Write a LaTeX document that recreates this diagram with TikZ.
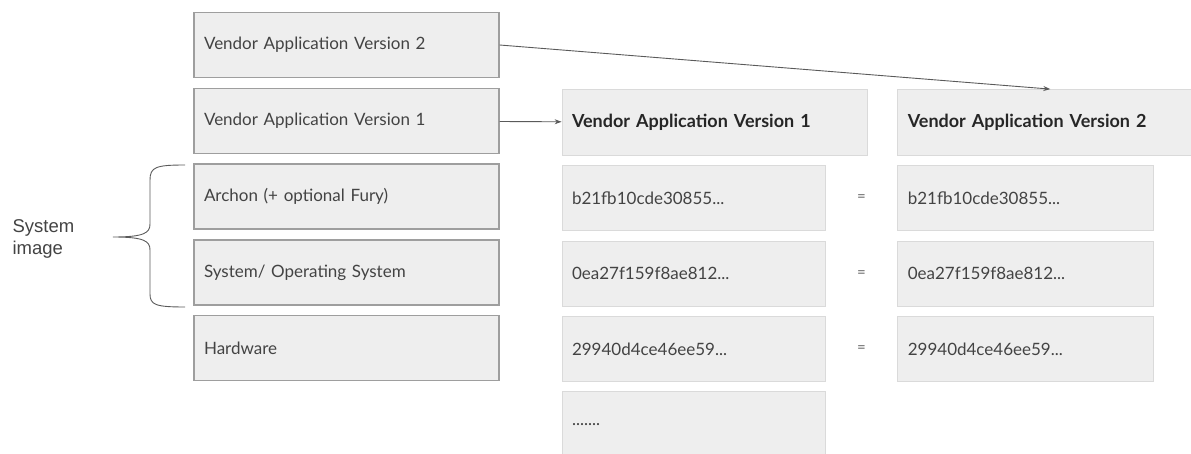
\documentclass[tikz,border=0pt]{standalone}
\usepackage{fontspec}
\setmainfont{Lato}
\newfontfamily\labelfont{Liberation Sans}
\usetikzlibrary{positioning, arrows.meta, calc}
\definecolor{boxfill}{HTML}{EEEEEE}
\definecolor{layerline}{HTML}{9E9E9E}
\definecolor{hashline}{HTML}{DADADA}
\definecolor{inkgray}{HTML}{434343}
\definecolor{wiregray}{HTML}{5A5A5A}

\begin{document}
\begin{tikzpicture}[
    x=1pt, y=-1pt,
    every node/.style={font=\fontsize{17}{20}\selectfont},
    layer/.style={draw=layerline, line width=1.3pt, fill=boxfill, rectangle, inner xsep=10pt, text width=285pt, minimum height=65pt, align=left, text=inkgray},
    headbox/.style={draw=hashline, line width=0.8pt, fill=boxfill, rectangle, inner xsep=10pt, text width=285pt, minimum height=66pt, align=left, text=black!85, font=\fontsize{18}{20}\selectfont\bfseries},
    hashbox/.style={draw=hashline, line width=0.8pt, fill=boxfill, rectangle, inner xsep=10pt, text width=243pt, minimum height=65pt, align=left, text=inkgray},
    eqsign/.style={text=black!60, font=\fontsize{15}{17}\selectfont},
    arr/.style={-{Stealth[length=7pt, width=5pt]}, draw=wiregray, line width=0.9pt}
]
    \useasboundingbox (0,0) rectangle (1191,454);

    % software / system stack
    \node[layer] (ven2) at (346.5,45) {Vendor Application Version 2};
    \node[layer, below=9.5pt of ven2] (ven1) {Vendor Application Version 1};
    \node[layer, below=9.5pt of ven1] (archon) {Archon (+ optional Fury)};
    \node[layer, below=9.5pt of archon] (os) {System/ Operating System};
    \node[layer, below=9.5pt of os] (hw) {Hardware};

    % hashes of version 1
    \node[headbox] (head1) at (714.5,122.5) {Vendor Application Version 1};
    \node[hashbox, below=9.5pt of head1.south west, anchor=north west] (hashA1) {b21fb10cde30855...};
    \node[hashbox, below=9.5pt of hashA1] (hashA2) {0ea27f159f8ae812...};
    \node[hashbox, below=9.5pt of hashA2] (hashA3) {29940d4ce46ee59...};
    \node[hashbox, below=9.5pt of hashA3] (hashA4) {.......};

    % hashes of version 2
    \node[headbox, right=30pt of head1] (head2) {Vendor Application Version 2};
    \node[hashbox, text width=236pt, below=9.5pt of head2.south west, anchor=north west] (hashB1) {b21fb10cde30855...};
    \node[hashbox, text width=236pt, below=9.5pt of hashB1] (hashB2) {0ea27f159f8ae812...};
    \node[hashbox, text width=236pt, below=9.5pt of hashB2] (hashB3) {29940d4ce46ee59...};

    \node[eqsign] (eq1) at ($(hashA1.east)!0.5!(hashB1.west)$) {=};
    \node[eqsign] (eq2) at ($(hashA2.east)!0.5!(hashB2.west)$) {=};
    \node[eqsign] (eq3) at ($(hashA3.east)!0.5!(hashB3.west)$) {=};

    % system image brace
    \node[anchor=west, align=left, text=inkgray, font=\labelfont\fontsize{18.5}{22}\selectfont] (sysimg) at (9,239) {System\\image};
    \coordinate (braceTop) at (185,165);
    \coordinate (braceTip) at (113,237);
    \coordinate (braceBot) at (185,307);
    \draw[wiregray, line width=0.9pt] (braceTop) .. controls (156,165) and (150,167) .. (150,180) -- (150,224)
        .. controls (150,233) and (144,237) .. (braceTip)
        .. controls (144,237) and (150,241) .. (150,250) -- (150,294)
        .. controls (150,305) and (156,307) .. (braceBot);

    \draw[arr] (ven1) -- (head1);
    \draw[arr] (ven2.east) -- (head2.north);
\end{tikzpicture}
\end{document}
